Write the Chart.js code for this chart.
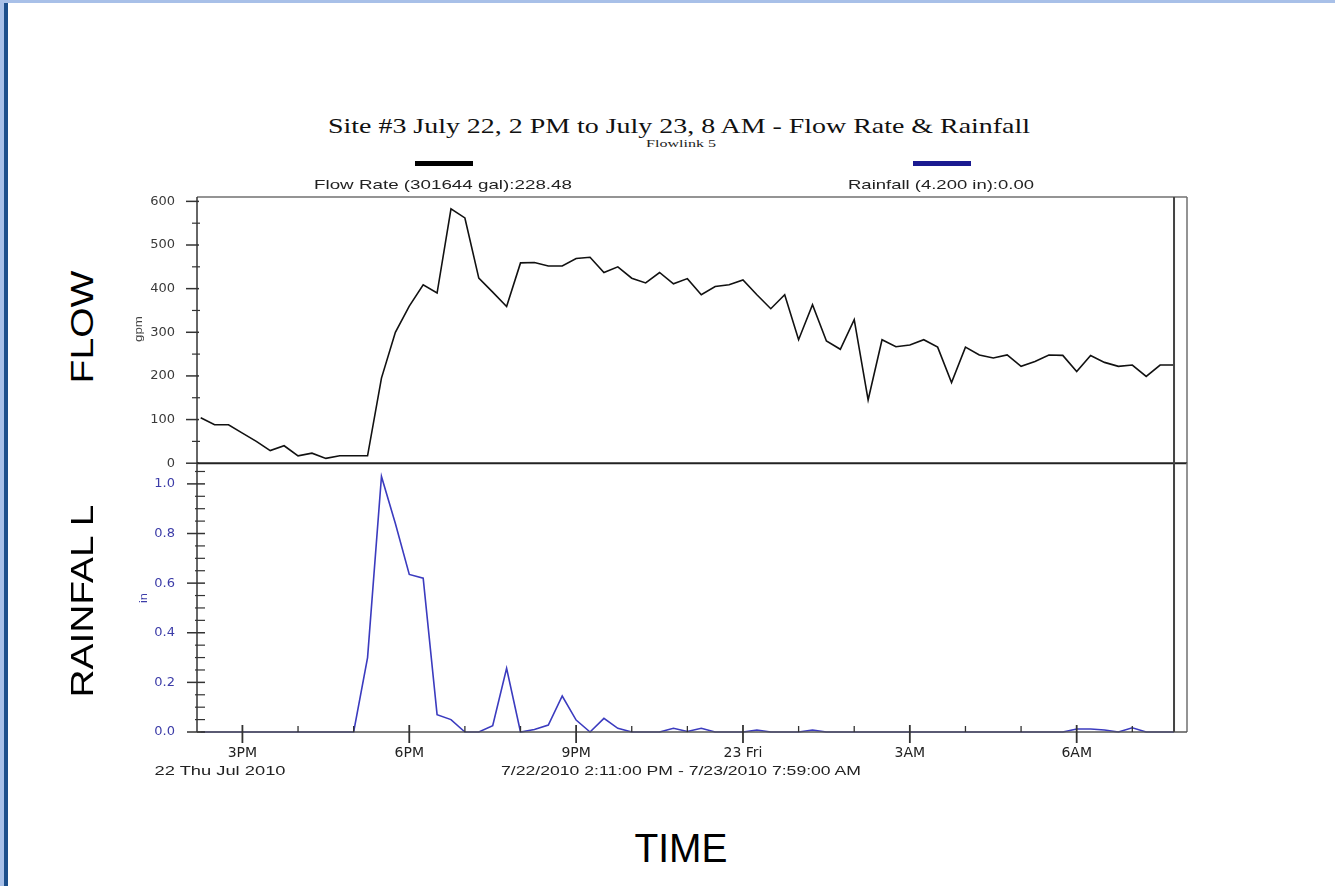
<!DOCTYPE html>
<html><head><meta charset="utf-8">
<script src="https://cdn.jsdelivr.net/npm/chart.js@4/dist/chart.umd.min.js"></script>
<style>
html,body{margin:0;padding:0;background:#fff;}
#page{position:relative;width:1335px;height:886px;overflow:hidden;background:#fff;}
.abs{position:absolute;white-space:nowrap;}
canvas{position:absolute;}
</style></head><body><div id="page">
<div class="abs" style="left:0;top:0;width:1335px;height:3px;background:#a8c0e8"></div>
<div class="abs" style="left:0;top:0;width:4px;height:886px;background:#a8c0e8"></div>
<div class="abs" style="left:4px;top:3px;width:4px;height:883px;background:#1d4f8b"></div>
<div class="abs" style="left:415px;top:161px;width:58px;height:5px;background:#000"></div>
<div class="abs" style="left:913px;top:161px;width:58px;height:5px;background:#1a1a90"></div>
<canvas id="topChart" width="1100" height="310" style="left:100px;top:170px;width:1100px;height:310px"></canvas>
<canvas id="botChart" width="1100" height="340" style="left:100px;top:455px;width:1100px;height:340px"></canvas>
</div>
<script>
// ---- data ----
const timeHours = [14.25,14.5,14.75,15,15.25,15.5,15.75,16,16.25,16.5,16.75,17,17.25,17.5,17.75,18,18.25,18.5,18.75,19,19.25,19.5,19.75,20,20.25,20.5,20.75,21,21.25,21.5,21.75,22,22.25,22.5,22.75,23,23.25,23.5,23.75,24,24.25,24.5,24.75,25,25.25,25.5,25.75,26,26.25,26.5,26.75,27,27.25,27.5,27.75,28,28.25,28.5,28.75,29,29.25,29.5,29.75,30,30.25,30.5,30.75,31,31.25,31.5,31.75];
const flowGpm = [104,88,88,69,50,29,40,17,23,11,17,17,17,195,300,360,409,390,583,562,424,392,359,459,460,452,452,469,472,437,450,424,413,437,411,423,386,405,409,420,386,354,386,283,363,280,261,329,145,283,267,271,283,266,185,266,248,241,248,222,233,248,247,210,247,231,222,225,199,225,225];
const rainIn = [0,0,0,0,0,0,0,0,0,0,0,0,0.30,1.03,0.84,0.635,0.62,0.07,0.05,0,0,0.025,0.257,0,0.01,0.028,0.145,0.048,0,0.055,0.015,0,0,0,0.015,0.002,0.015,0,0,0,0.008,0,0,0,0.008,0,0,0,0,0,0,0,0,0,0,0,0,0,0,0,0,0,0,0.012,0.012,0.008,0,0.017,0,0,0];
const xMajorHours = [15,18,21,24,27,30];
const xMajorLabels = ['3PM','6PM','9PM','23 Fri','3AM','6AM'];
const xMinorHours = [16,17,19,20,22,23,25,26,28,29,31];
const flowTicks = [0,100,200,300,400,500,600];
const flowMinor = [50,150,250,350,450,550];
const rainTicks = [0,0.2,0.4,0.6,0.8,1.0];
const rainMinor = [0.05,0.1,0.15,0.25,0.3,0.35,0.45,0.5,0.55,0.65,0.7,0.75,0.85,0.9,0.95,1.05];
const xMin = 14 + 11/60, xMax = 31 + 59/60, cursorHour = 31.75;

const page = document.getElementById('page');
function placeText(txt, o){
  const d = document.createElement('div');
  d.className='abs'; d.textContent = txt;
  d.style.font = (o.weight||'normal')+' '+o.size+'px '+o.family;
  d.style.lineHeight='1'; d.style.color=o.color||'#333';
  page.appendChild(d);
  const nat = d.getBoundingClientRect().width;
  const k = o.w ? o.w/nat : 1;
  d.style.left = o.cx+'px'; d.style.top = o.cy+'px';
  d.style.transform = 'translate(-50%,-50%) '+(o.rot?'rotate(-90deg) ':'')+'scaleX('+k+')';
}
placeText('Site #3 July 22, 2 PM to July 23, 8 AM - Flow Rate & Rainfall',{cx:679,cy:126,w:702,size:21,family:'"Liberation Serif"',color:'#111'});
placeText('Flowlink 5',{cx:681,cy:143,w:70,size:11,family:'"Liberation Serif"',color:'#222'});
placeText('Flow Rate (301644 gal):228.48',{cx:443,cy:184,w:258,size:13,family:'"Liberation Sans"',color:'#222'});
placeText('Rainfall (4.200 in):0.00',{cx:941,cy:184,w:186,size:13,family:'"Liberation Sans"',color:'#222'});
placeText('gpm',{cx:139,cy:329,w:26,size:10,family:'"Liberation Sans"',color:'#444',rot:true});
placeText('in',{cx:143,cy:598,w:10,size:11,family:'"Liberation Sans"',color:'#3c3ca8',rot:true});
placeText('22 Thu Jul 2010',{cx:220,cy:770,w:131,size:13,family:'"Liberation Sans"',color:'#222'});
placeText('7/22/2010 2:11:00 PM - 7/23/2010 7:59:00 AM',{cx:681,cy:770,w:360,size:13,family:'"Liberation Sans"',color:'#222'});
placeText('FLOW',{cx:82,cy:327,w:113,size:31,family:'"Liberation Sans"',color:'#000',rot:true});
placeText('RAINFAL L',{cx:82,cy:601,w:193,size:31,family:'"Liberation Sans"',color:'#000',rot:true});
placeText('TIME',{cx:681,cy:848,w:93,size:41,family:'"Liberation Sans"',color:'#000'});

function seg(ctx,x1,y1,x2,y2){ctx.beginPath();ctx.moveTo(x1,y1);ctx.lineTo(x2,y2);ctx.stroke();}

const topFrame = {id:'topFrame', afterDraw(chart){
  const {ctx, chartArea:a, scales:{x,y}} = chart;
  ctx.save();
  ctx.lineWidth=1.5; ctx.strokeStyle='#707070';
  seg(ctx,a.left,a.top,a.right,a.top);
  seg(ctx,a.right,a.top,a.right,a.bottom);
  ctx.strokeStyle='#333';
  seg(ctx,a.left,a.top,a.left,a.bottom);
  flowTicks.forEach(v=>{const p=y.getPixelForValue(v); seg(ctx,a.left-11,p,a.left+2,p);});
  ctx.lineWidth=1.2;
  flowMinor.forEach(v=>{const p=y.getPixelForValue(v); seg(ctx,a.left-5,p,a.left+3,p);});
  ctx.lineWidth=2; ctx.strokeStyle='#222';
  const z=y.getPixelForValue(0); seg(ctx,a.left,z,a.right,z);
  ctx.strokeStyle='#444';
  const c=x.getPixelForValue(cursorHour); seg(ctx,c,a.top,c,a.bottom);
  ctx.restore();
}};
const botFrame = {id:'botFrame', afterDraw(chart){
  const {ctx, chartArea:a, scales:{x,y}} = chart;
  ctx.save();
  ctx.lineWidth=1.5; ctx.strokeStyle='#707070';
  seg(ctx,a.right,a.top,a.right,a.bottom);
  ctx.strokeStyle='#333';
  seg(ctx,a.left,a.top,a.left,a.bottom);
  ctx.strokeStyle='#555';
  seg(ctx,a.left,a.bottom,a.right,a.bottom);
  ctx.strokeStyle='#333';
  rainTicks.forEach(v=>{const p=y.getPixelForValue(v); seg(ctx,a.left-10,p,a.left+8,p);});
  ctx.lineWidth=1.2;
  rainMinor.forEach(v=>{const p=y.getPixelForValue(v); seg(ctx,a.left-2,p,a.left+8,p);});
  ctx.lineWidth=1.8;
  xMajorHours.forEach(v=>{const p=x.getPixelForValue(v); seg(ctx,p,a.bottom-7,p,a.bottom+11);});
  ctx.lineWidth=1.3;
  xMinorHours.forEach(v=>{const p=x.getPixelForValue(v); seg(ctx,p,a.bottom-6,p,a.bottom);});
  ctx.lineWidth=2; ctx.strokeStyle='#444';
  const c=x.getPixelForValue(cursorHour); seg(ctx,c,a.top,c,a.bottom);
  ctx.restore();
}};

const xScaleBase = {type:'linear', min:xMin, max:xMax, grid:{display:false}, border:{display:false}};

const topCanvas = document.getElementById('topChart');
const botCanvas = document.getElementById('botChart');
const topChart = new Chart(topCanvas, {
  type:'line',
  data:{datasets:[{label:'Flow Rate', data:timeHours.map((t,i)=>({x:t,y:flowGpm[i]})), borderColor:'#111', borderWidth:1.6, pointRadius:0, tension:0, clip:false}]},
  options:{responsive:false, maintainAspectRatio:false, animation:false, devicePixelRatio:1,
    layout:{padding:{left:0,right:14,top:27,bottom:17}},
    plugins:{legend:{display:false}, tooltip:{enabled:false}},
    scales:{
      x:Object.assign({}, xScaleBase, {display:false}),
      y:{min:0, max:610, grid:{display:false}, border:{display:false},
        afterFit:s=>{s.width=97;},
        afterBuildTicks:s=>{s.ticks=flowTicks.map(v=>({value:v}));},
        ticks:{padding:14, color:'#3a3a3a', font:{family:'"DejaVu Sans"', size:13}, callback:v=>String(v)}}
    }},
  plugins:[topFrame]
});
const botChart = new Chart(botCanvas, {
  type:'line',
  data:{datasets:[{label:'Rainfall', data:timeHours.map((t,i)=>({x:t,y:rainIn[i]})), borderColor:'#3b3bbf', borderWidth:1.6, pointRadius:0, tension:0, clip:false}]},
  options:{responsive:false, maintainAspectRatio:false, animation:false, devicePixelRatio:1,
    layout:{padding:{left:0,right:14,top:8,bottom:13}},
    plugins:{legend:{display:false}, tooltip:{enabled:false}},
    scales:{
      x:Object.assign({}, xScaleBase, {
        afterFit:s=>{s.height=45;},
        afterBuildTicks:s=>{s.ticks=xMajorHours.map(v=>({value:v}));},
        ticks:{padding:5, maxRotation:0, autoSkip:false, color:'#222', font:{family:'"DejaVu Sans"', size:14},
          callback:v=>{const i=xMajorHours.indexOf(v); return i>=0?xMajorLabels[i]:'';}}}),
      y:{min:0, max:1.085, grid:{display:false}, border:{display:false},
        afterFit:s=>{s.width=97;},
        afterBuildTicks:s=>{s.ticks=rainTicks.map(v=>({value:v}));},
        ticks:{padding:14, color:'#3c3ca8', font:{family:'"DejaVu Sans"', size:13}, callback:v=>v.toFixed(1)}}
    }},
  plugins:[botFrame]
});

// align chart areas to the reference frame (page coordinates): resize, then move the canvas
function align(chart, canvas, target){
  for (let k=0; k<3; k++){
    const a = chart.chartArea;
    const dw = (target.right-target.left) - (a.right-a.left);
    const dh = (target.bottom-target.top) - (a.bottom-a.top);
    if (Math.abs(dw)>0.1 || Math.abs(dh)>0.1) chart.resize(Math.round(chart.width+dw), Math.round(chart.height+dh));
  }
  const a = chart.chartArea;
  canvas.style.left = (target.left - a.left) + 'px';
  canvas.style.top = (target.top - a.top) + 'px';
}
align(topChart, topCanvas, {left:197, right:1187, top:197, bottom:463});
align(botChart, botCanvas, {left:197, right:1187, top:463, bottom:732});
</script>
</body></html>
